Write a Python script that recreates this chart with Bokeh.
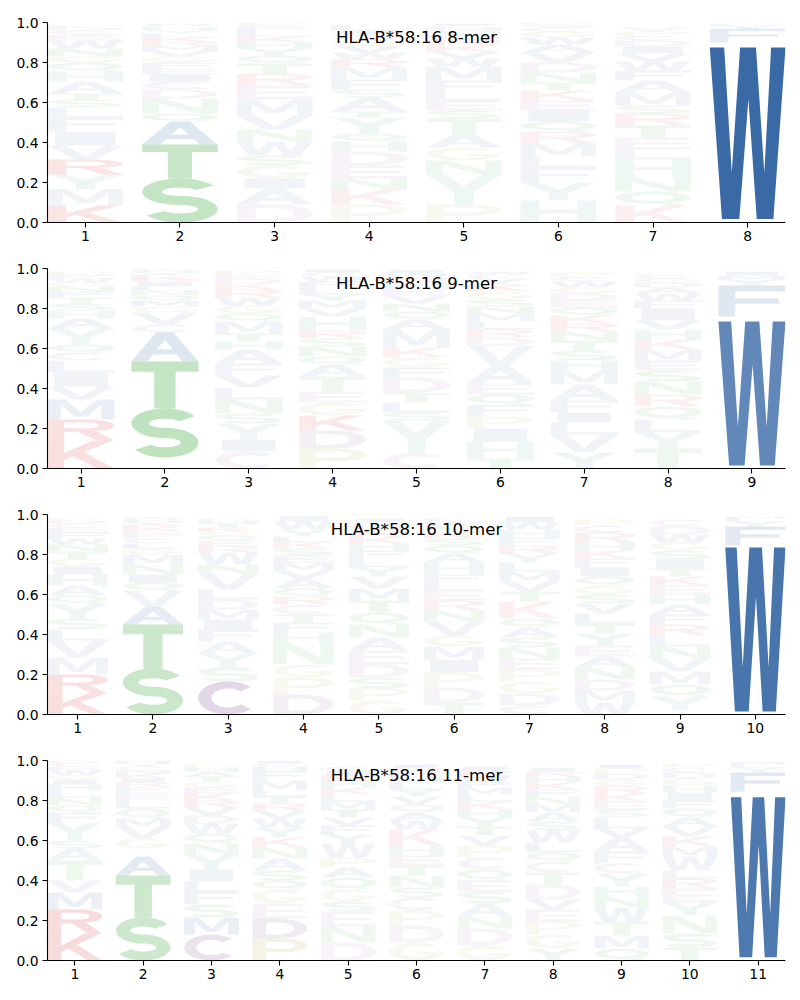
import numpy as np
from bokeh.plotting import figure
from bokeh.layouts import column
from bokeh.models import ColumnDataSource, Range1d, FixedTicker, PrintfTickFormatter
from bokeh.core.properties import value
from bokeh.embed import file_html
from bokeh.resources import INLINE

ALLELE = "HLA-B*58:16"
LENGTHS = [8, 9, 10, 11]

# ---- data: letters bottom->top per position, with their heights ("-" = blank gap)
letters_8mer = ["KMYRVIFLSTAHQGNWECDP", "STAQNDCIEFGVMRKLYHPW", "DAIGSWNVMERTQYHKLFCP",
                "PKNEDHQYTASFMRWVGCIL", "PYNGATSELFMWVKRDQHCI", "HYFLMRQIEKTNDVAWGCSP",
                "KQNHLETRSMAFWVIDCPYG", "-W-FYLM"]
heights_8mer = [
    [.085, .083, .072, .075, .07, .07, .07, .05, .04, .03, .06, .05, .045, .03, .04, .04, .03, .02, .015, .012],
    [.22, .17, .115, .04, .075, .045, .04, .035, .03, .03, .03, .03, .025, .02, .02, .02, .015, .015, .01, .01],
    [.09, .08, .05, .065, .05, .07, .06, .07, .08, .07, .06, .05, .04, .035, .03, .03, .025, .02, .015, .01],
    [.09, .075, .055, .065, .07, .05, .04, .08, .03, .07, .04, .05, .06, .04, .035, .035, .03, .025, .02, .025],
    [.09, .15, .07, .065, .065, .08, .04, .05, .04, .06, .07, .04, .035, .03, .03, .025, .02, .015, .01, .01],
    [.11, .09, .075, .055, .065, .06, .05, .055, .05, .05, .04, .05, .05, .05, .04, .035, .03, .02, .015, .01],
    [.085, .07, .07, .09, .05, .06, .06, .06, .04, .065, .06, .05, .045, .04, .035, .03, .025, .02, .015, .01],
    [.018, .857, .025, .07, .012, .008, .005],
]
emph_8mer = {(1, "K"): .12, (1, "R"): .12, (2, "S"): .28, (2, "T"): .26, (2, "A"): .16,
             (8, "W"): 1.0, (8, "F"): .12}

letters_9mer = ["KRMVILCQYAHSTFNGWEDP", "-STACVGMQNLIRKFYHDWP", "CIYSNLVFAHTMQGWRKDEP",
                "PDKGETAQNSRHVMYLFWCI", "CYSLTDFGKMAQNVEHRWIP", "THIPFQEAVDRLMNSGKYCW",
                "YVLIFAMHSTNRKQEDGWCP", "TYLQRNSEMKHVIFWADGCP", "-W-FYMI"]
heights_9mer = [
    [.14, .105, .1, .065, .07, .06, .04, .04, .08, .05, .04, .035, .03, .03, .025, .02, .02, .015, .01, .01],
    [.055, .245, .235, .145, .04, .06, .03, .03, .025, .025, .02, .02, .015, .015, .01, .01, .005, .005, .005, .005],
    [.085, .06, .08, .05, .07, .06, .06, .06, .07, .04, .04, .06, .04, .04, .04, .04, .03, .025, .02, .02],
    [.1, .09, .075, .065, .055, .075, .06, .04, .05, .04, .04, .07, .04, .04, .03, .035, .03, .025, .02, .015],
    [.075, .165, .04, .05, .05, .075, .05, .05, .05, .09, .05, .04, .04, .04, .035, .03, .025, .02, .015, .01],
    [.05, .085, .065, .06, .06, .05, .055, .09, .1, .04, .04, .04, .04, .035, .035, .04, .035, .03, .02, .015],
    [.08, .09, .06, .05, .06, .08, .07, .05, .05, .05, .045, .04, .04, .04, .035, .035, .03, .03, .025, .02],
    [.1, .08, .065, .065, .06, .065, .055, .05, .055, .05, .05, .045, .06, .04, .035, .03, .025, .02, .015, .01],
    [.015, .72, .025, .155, .03, .02, .02],
]
emph_9mer = {(1, "K"): .15, (1, "R"): .14, (1, "M"): .11, (2, "S"): .3, (2, "T"): .28, (2, "A"): .17,
             (4, "P"): .1, (4, "D"): .1, (4, "K"): .1, (9, "W"): .8, (9, "F"): .16}

letters_10mer = ["KRMVLSYQAHIGTNWFECDP", "STAVQINMGLCFEKRYHDWP", "CSYAFIMDLVNWREQGKTHP",
                 "DPGNHFTCRQAVMESKLYWI", "GPSDEANQTMVYLFHKRWCI", "TDPIMGVNRELFHAQSKYWC",
                 "CDGPENSAQKTVMLYRFHWI", "WMDNAEYTLVSGQIFKHRCP", "-YQMVNLRFAHEKTISGWDC", "-W-FYLM"]
heights_10mer = [
    [.105, .095, .085, .085, .055, .055, .075, .04, .05, .055, .04, .04, .035, .035, .03, .03, .025, .02, .015, .01],
    [.23, .22, .09, .08, .04, .04, .05, .05, .03, .025, .025, .02, .02, .015, .015, .01, .01, .01, .005, .005],
    [.165, .07, .07, .06, .06, .05, .05, .05, .05, .08, .045, .06, .03, .03, .025, .02, .02, .02, .015, .01],
    [.1, .085, .065, .11, .05, .05, .04, .05, .04, .04, .05, .04, .04, .035, .035, .03, .03, .035, .04, .03],
    [.07, .06, .055, .065, .07, .065, .065, .06, .06, .06, .06, .045, .045, .04, .035, .035, .03, .025, .02, .015],
    [.06, .075, .075, .065, .065, .055, .07, .055, .05, .05, .04, .04, .06, .045, .04, .035, .03, .03, .025, .02],
    [.045, .06, .06, .06, .055, .055, .05, .05, .045, .085, .05, .05, .05, .045, .045, .04, .04, .04, .035, .03],
    [.06, .06, .055, .06, .055, .055, .06, .05, .05, .05, .045, .045, .045, .045, .045, .04, .04, .05, .035, .03],
    [.02, .07, .06, .065, .065, .06, .055, .055, .05, .05, .05, .045, .045, .04, .045, .045, .04, .04, .04, .035],
    [.015, .82, .01, .095, .025, .015, .01],
]
emph_10mer = {(1, "K"): .15, (1, "R"): .14, (2, "S"): .25, (2, "T"): .24, (2, "A"): .13, (3, "C"): .25,
              (4, "D"): .1, (10, "W"): .93, (10, "F"): .15}

letters_11mer = ["KRMVTASYFQNLHIGWECDP", "STA-GVMQLEFRIKNCYH", "CMSFLIYNQWDVRKEGTAHP",
                 "PDEGQSANKYWVRTLMFHCI", "DNESGQAPWYFVTMLKHRIC", "GDPCSNTEHKWAQVYLMFRI",
                 "GDNASEQCPVTYHKLMFWRI", "YGPEVDTCQLWSAMNFKHRI", "QMTWNHYCFAVLSEKRGDPI",
                 "TSNYERLWMKVAQFIHGDCP", "-W-FYLMI"]
heights_11mer = [
    [.135, .12, .085, .06, .1, .06, .04, .09, .05, .035, .04, .035, .03, .025, .025, .02, .02, .015, .01, .01],
    [.215, .21, .095, .04, .05, .06, .04, .05, .045, .035, .03, .02, .02, .025, .015, .02, .015, .015],
    [.13, .085, .065, .065, .05, .06, .075, .055, .05, .05, .04, .04, .035, .035, .03, .03, .025, .025, .02, .015],
    [.11, .1, .075, .07, .045, .05, .06, .055, .05, .05, .045, .04, .035, .035, .03, .05, .05, .02, .015, .015],
    [.09, .08, .075, .05, .06, .06, .05, .05, .07, .045, .045, .04, .04, .04, .035, .035, .03, .03, .025, .02],
    [.09, .085, .075, .065, .05, .06, .05, .05, .05, .08, .045, .04, .04, .04, .035, .035, .03, .025, .02, .015],
    [.075, .085, .06, .065, .06, .055, .055, .06, .06, .05, .045, .045, .04, .04, .035, .035, .03, .03, .025, .02],
    [.06, .07, .065, .06, .05, .075, .06, .055, .045, .05, .06, .045, .045, .04, .04, .035, .035, .03, .025, .02],
    [.06, .065, .07, .07, .055, .05, .065, .05, .06, .07, .045, .055, .04, .04, .04, .035, .035, .03, .025, .02],
    [.065, .07, .09, .065, .07, .05, .04, .07, .05, .05, .05, .045, .045, .04, .04, .035, .035, .03, .025, .02],
    [.016, .80, .028, .096, .025, .015, .01, .005],
]
emph_11mer = {(1, "K"): .16, (1, "R"): .16, (1, "M"): .1, (2, "S"): .24, (2, "T"): .24, (2, "A"): .14,
              (3, "C"): .18, (3, "M"): .11, (4, "P"): .13, (4, "D"): .13, (11, "W"): .9, (11, "F"): .15}

PANELS = [(8, letters_8mer, heights_8mer, emph_8mer),
          (9, letters_9mer, heights_9mer, emph_9mer),
          (10, letters_10mer, heights_10mer, emph_10mer),
          (11, letters_11mer, heights_11mer, emph_11mer)]

DEFAULT_ALPHA = 0.075
BLUE, GREEN, RED, PURPLE, OLIVE, TEAL = "#3a6aa6", "#2ca02c", "#d62728", "#8e5f9f", "#a9a53a", "#2e8b8b"
COLORS = {}
for grp, col in [("AFILMVW", BLUE), ("NQST", GREEN), ("KR", RED), ("CDE", PURPLE), ("GP", OLIVE), ("HY", TEAL)]:
    for ch in grp:
        COLORS[ch] = col


# ---- glyph outlines in a unit box (0..1 x 0..1)
def arc(cx, cy, rx, ry, a0, a1, n=30):
    t = np.radians(np.linspace(a0, a1, n))
    return list(zip(cx + rx * np.cos(t), cy + ry * np.sin(t)))


def s_shape():
    tx, ty = 0.26, 0.21
    cy = (1 - ty) / 4
    cx = 0.5 - tx / 2
    uc, lc = 1 - (cy + ty / 2), cy + ty / 2
    ro = (cx + tx / 2, cy + ty / 2)
    ri = (cx - tx / 2, cy - ty / 2)
    ring = (arc(0.5, uc, ro[0], ro[1], 28, 270) + arc(0.5, lc, ri[0], ri[1], 90, -152)
            + arc(0.5, lc, ro[0], ro[1], -152, 90) + arc(0.5, uc, ri[0], ri[1], 270, 28))
    return [[ring]]


GLYPHS = {
    "A": [[[(0, 0), (0.37, 1), (0.63, 1), (1, 0), (0.76, 0), (0.68, 0.24), (0.32, 0.24), (0.24, 0)],
           [(0.38, 0.42), (0.62, 0.42), (0.5, 0.74)]]],
    "C": [[arc(.5, .5, .5, .5, 42, 318) + arc(.5, .5, .28, .29, 318, 42)]],
    "D": [[[(0, 0), (0.45, 0)] + arc(0.45, 0.5, 0.55, 0.5, -90, 90)[1:] + [(0, 1)],
           [(0.25, 0.2), (0.45, 0.2)] + arc(0.45, 0.5, 0.31, 0.3, -90, 90)[1:] + [(0.25, 0.8)]]],
    "E": [[[(0, 0), (1, 0), (1, 0.19), (0.25, 0.19), (0.25, 0.41), (0.92, 0.41), (0.92, 0.59),
            (0.25, 0.59), (0.25, 0.81), (0.97, 0.81), (0.97, 1), (0, 1)]]],
    "F": [[[(0, 0), (0.25, 0), (0.25, 0.41), (0.9, 0.41), (0.9, 0.59), (0.25, 0.59), (0.25, 0.81),
            (1, 0.81), (1, 1), (0, 1)]]],
    "G": [[arc(.5, .5, .5, .5, 40, 360) + [(0.53, 0.5), (0.53, 0.35), (0.79, 0.35)]
           + arc(.5, .5, .28, .29, -35, -320)]],
    "H": [[[(0, 0), (0.25, 0), (0.25, 0.41), (0.75, 0.41), (0.75, 0), (1, 0), (1, 1), (0.75, 1),
            (0.75, 0.59), (0.25, 0.59), (0.25, 1), (0, 1)]]],
    "I": [[[(0.1, 0), (0.9, 0), (0.9, 1), (0.1, 1)]]],
    "K": [[[(0, 0), (0.25, 0), (0.25, 0.3), (0.38, 0.44), (0.74, 0), (1, 0), (0.54, 0.58), (0.97, 1),
            (0.68, 1), (0.25, 0.55), (0.25, 1), (0, 1)]]],
    "L": [[[(0, 0), (1, 0), (1, 0.19), (0.25, 0.19), (0.25, 1), (0, 1)]]],
    "M": [[[(0, 0), (0.2, 0), (0.2, 0.74), (0.41, 0.14), (0.59, 0.14), (0.8, 0.74), (0.8, 0), (1, 0),
            (1, 1), (0.74, 1), (0.5, 0.36), (0.26, 1), (0, 1)]]],
    "N": [[[(0, 0), (0.22, 0), (0.22, 0.68), (0.73, 0), (1, 0), (1, 1), (0.78, 1), (0.78, 0.32), (0.27, 1),
            (0, 1)]]],
    "P": [[[(0, 0), (0.25, 0), (0.25, 0.37), (0.55, 0.37)] + arc(0.55, 0.685, 0.45, 0.315, -90, 90)[1:] + [(0, 1)],
           [(0.25, 0.54), (0.55, 0.54)] + arc(0.55, 0.69, 0.22, 0.15, -90, 90)[1:] + [(0.25, 0.84)]]],
    "Q": [[arc(.5, .56, .5, .44, 0, 360)[:-1], arc(.5, .56, .28, .24, 0, 360)[:-1]],
          [[(0.58, 0.0), (0.86, 0.0), (0.92, 0.12), (0.72, 0.14)]]],
    "R": [[[(0, 0), (0.25, 0), (0.25, 0.42), (0.45, 0.42), (0.74, 0), (1, 0), (0.7, 0.46)]
           + arc(0.55, 0.71, 0.45, 0.29, -50, 90) + [(0, 1)],
           [(0.25, 0.58), (0.55, 0.58)] + arc(0.55, 0.72, 0.22, 0.14, -90, 90)[1:] + [(0.25, 0.86)]]],
    "S": s_shape(),
    "T": [[[(0, 1), (1, 1), (1, 0.78), (0.66, 0.78), (0.66, 0), (0.34, 0), (0.34, 0.78), (0, 0.78)]]],
    "V": [[[(0, 1), (0.37, 0), (0.63, 0), (1, 1), (0.76, 1), (0.5, 0.24), (0.24, 1)]]],
    "W": [[[(0, 1), (0.19, 1), (0.29, 0.27), (0.4, 1), (0.61, 1), (0.72, 0.27), (0.81, 1), (1, 1),
            (0.84, 0), (0.62, 0), (0.51, 0.7), (0.39, 0), (0.16, 0)]]],
    "Y": [[[(0, 1), (0.37, 0.42), (0.37, 0), (0.63, 0), (0.63, 0.42), (1, 1), (0.74, 1), (0.5, 0.6),
            (0.26, 1)]]],
}

FONT = "DejaVu Sans"
LETTER_W = 0.8


def logo_panel(n, letters, heights, emph):
    assert len(letters) == n and len(heights) == n
    xs, ys, cols, alphas = [], [], [], []
    for pos, (seq, hs) in enumerate(zip(letters, heights), start=1):
        assert len(seq) == len(hs), (n, pos, len(seq), len(hs))
        bottom = 0.0
        for ch, h in zip(seq, hs):
            if ch != "-":
                gx, gy = [], []
                for poly in GLYPHS[ch]:
                    gx.append([np.array([pos - LETTER_W / 2 + LETTER_W * px for px, _ in ring]) for ring in poly])
                    gy.append([np.array([bottom + h * py for _, py in ring]) for ring in poly])
                xs.append(gx)
                ys.append(gy)
                cols.append(COLORS[ch])
                alphas.append(emph.get((pos, ch), DEFAULT_ALPHA))
            bottom += h
    src = ColumnDataSource(dict(xs=xs, ys=ys, color=cols, alpha=alphas))

    p = figure(frame_width=738, frame_height=200, x_range=Range1d(0.6, n + 0.4), y_range=Range1d(0, 1),
               output_backend="svg", toolbar_location=None,
               min_border_left=47, min_border_right=15, min_border_top=22, min_border_bottom=24)
    p.multi_polygons("xs", "ys", source=src, fill_color="color", fill_alpha="alpha", line_color=None)
    p.text(x=[(n + 1) / 2], y=[0.925], text=[f"{ALLELE} {n}-mer"], text_font=value(FONT),
           text_font_size="16.6px", text_align="center", text_baseline="middle", text_color="black")

    p.xgrid.visible = False
    p.ygrid.visible = False
    p.outline_line_color = None
    p.background_fill_color = "white"
    p.xaxis.ticker = FixedTicker(ticks=list(range(1, n + 1)))
    p.yaxis.ticker = FixedTicker(ticks=[0, 0.2, 0.4, 0.6, 0.8, 1.0])
    p.yaxis.formatter = PrintfTickFormatter(format="%.1f")
    for ax in (p.xaxis[0], p.yaxis[0]):
        ax.axis_line_color = "black"
        ax.axis_line_width = 1.1
        ax.major_tick_line_color = "black"
        ax.major_tick_line_width = 1.1
        ax.minor_tick_line_color = None
        ax.major_tick_in = 0
        ax.major_tick_out = 5
        ax.major_label_text_font = FONT
        ax.major_label_text_font_size = "13.9px"
        ax.major_label_text_color = "black"
    p.xaxis[0].major_label_standoff = 3
    p.yaxis[0].major_label_standoff = 4
    return p


figs = [logo_panel(n, L, H, E) for n, L, H, E in PANELS]
layout = column(*figs, spacing=0)
open("out.html", "w").write(file_html(layout, INLINE))
